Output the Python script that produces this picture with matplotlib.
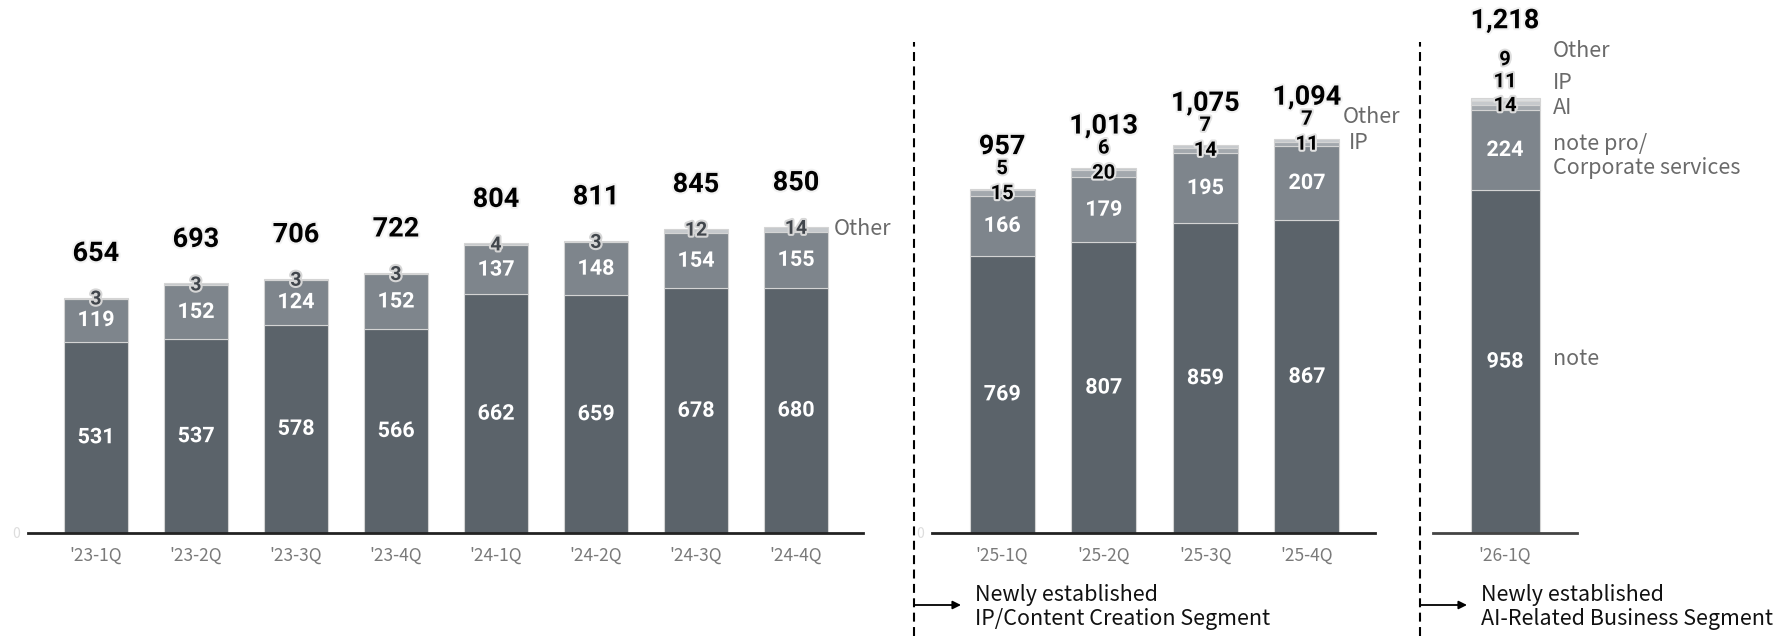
import matplotlib.pyplot as plt
import matplotlib.patheffects as pe

# --- data ---------------------------------------------------------------
quarters_a = ["'23-1Q", "'23-2Q", "'23-3Q", "'23-4Q", "'24-1Q", "'24-2Q", "'24-3Q", "'24-4Q"]
note_a = [531, 537, 578, 566, 662, 659, 678, 680]
pro_a = [119, 152, 124, 152, 137, 148, 154, 155]
other_a = [3, 3, 3, 3, 4, 3, 12, 14]
total_a = [654, 693, 706, 722, 804, 811, 845, 850]

quarters_b = ["'25-1Q", "'25-2Q", "'25-3Q", "'25-4Q"]
note_b = [769, 807, 859, 867]
pro_b = [166, 179, 195, 207]
ip_b = [15, 20, 14, 11]
other_b = [5, 6, 7, 7]
total_b = [957, 1013, 1075, 1094]

quarters_c = ["'26-1Q"]
note_c = [958]
pro_c = [224]
ai_c = [14]
ip_c = [11]
other_c = [9]
total_c = [1218]

# --- style --------------------------------------------------------------
C_NOTE = "#5b636a"
C_PRO = "#7e858c"
C_MID = "#a3a8ad"
C_TOP = "#c6c9cc"
NUM_FONT = "Roboto"
TXT_FONT = ["Noto Sans CJK JP", "DejaVu Sans"]
W, H = 1787, 636

fig = plt.figure(figsize=(W / 100, H / 100), dpi=100)


def px_axes(x0, x1, ymax):
    # axes whose bottom edge sits on the baseline at y=533 px (from top)
    ax = fig.add_axes([x0 / W, (H - 533) / H, (x1 - x0) / W, 533 / H])
    ax.set_ylim(0, ymax)
    for s in ["top", "right", "left"]:
        ax.spines[s].set_visible(False)
    ax.spines["bottom"].set_linewidth(2)
    ax.spines["bottom"].set_color("#222222")
    ax.set_yticks([0])
    ax.set_yticklabels(["0"], color="#dddddd", fontsize=10, family=TXT_FONT)
    ax.tick_params(axis="y", length=0, pad=6)
    ax.tick_params(axis="x", length=0, pad=10, labelsize=12.5, labelcolor="#7a7a7a")
    ax.patch.set_alpha(0)
    return ax


def halo(color, lw=3):
    return [pe.withStroke(linewidth=lw, foreground=color)]


def lab(ax, x, y, s, dy_px=0, size=14, color="black", stroke="#eeeeee", weight="bold"):
    ax.annotate(s, (x, y), xytext=(0, -dy_px * 0.72), textcoords="offset points",
                ha="center", va="center", fontsize=size, color=color, family=NUM_FONT,
                weight=weight, path_effects=halo(stroke), annotation_clip=False)


def side(ax, x, y, s, dy_px=0):
    ax.annotate(s, (x, y), xytext=(4, -dy_px * 0.72), textcoords="offset points",
                ha="left", va="center", fontsize=15.5, color="#6a6a6a",
                family=TXT_FONT, annotation_clip=False, linespacing=1.1)


def stacked(ax, xs, segs, width):
    bottoms = [0] * len(xs)
    for vals, col in segs:
        ax.bar(xs, vals, width, bottom=bottoms, color=col, edgecolor="#d4d4d4", linewidth=0.8)
        bottoms = [b + v for b, v in zip(bottoms, vals)]
    return bottoms


# --- panel 1: '23-'24 ---------------------------------------------------
ax1 = px_axes(28, 863, 1478)
xa = list(range(len(quarters_a)))
ax1.set_xlim(-0.68, 7.67)
tops = stacked(ax1, xa, [(note_a, C_NOTE), (pro_a, C_PRO), (other_a, C_TOP)], 0.64)
ax1.set_xticks(xa)
ax1.set_xticklabels(quarters_a, family=TXT_FONT)
for i in xa:
    lab(ax1, i, note_a[i] / 2, str(note_a[i]), size=15.5, color="white", stroke=C_NOTE)
    lab(ax1, i, note_a[i] + pro_a[i] / 2, str(pro_a[i]), size=15.5, color="white", stroke=C_PRO)
    lab(ax1, i, tops[i], str(other_a[i]), dy_px=2, size=14, color="#41464c", stroke="#d6d6d6")
    lab(ax1, i, tops[i], f"{total_a[i]:,}", dy_px=-44, size=19.5, stroke="#f2f2f2")
side(ax1, xa[-1] + 0.32, tops[-1], "Other", dy_px=2)

# --- panel 2: '25 -------------------------------------------------------
ax2 = px_axes(932, 1375, 1478)
xb = list(range(len(quarters_b)))
ax2.set_xlim(-0.69, 3.67)
tops = stacked(ax2, xb, [(note_b, C_NOTE), (pro_b, C_PRO), (ip_b, C_MID), (other_b, C_TOP)], 0.64)
ax2.set_xticks(xb)
ax2.set_xticklabels(quarters_b, family=TXT_FONT)
for i in xb:
    lab(ax2, i, note_b[i] / 2, str(note_b[i]), size=15.5, color="white", stroke=C_NOTE)
    lab(ax2, i, note_b[i] + pro_b[i] / 2, str(pro_b[i]), size=15.5, color="white", stroke=C_PRO)
    lab(ax2, i, tops[i], str(ip_b[i]), dy_px=5, size=14.5, stroke="#e2e2e2")
    lab(ax2, i, tops[i], str(other_b[i]), dy_px=-20, size=14.5, stroke="#e2e2e2")
    lab(ax2, i, tops[i], f"{total_b[i]:,}", dy_px=-42, size=19.5, stroke="#f2f2f2")
side(ax2, xb[-1] + 0.30, tops[-1], "Other", dy_px=-22)
side(ax2, xb[-1] + 0.36, tops[-1], "IP", dy_px=4)

# --- panel 3: '26 -------------------------------------------------------
ax3 = px_axes(1433, 1577, 1489)
ax3.spines["bottom"].set_color("#444444")
ax3.set_yticks([])
ax3.set_xlim(-0.72, 0.72)
tops = stacked(ax3, [0], [(note_c, C_NOTE), (pro_c, C_PRO), (ai_c, C_MID), (ip_c, C_TOP), (other_c, "#dcdedf")], 0.69)
ax3.set_xticks([0])
ax3.set_xticklabels(quarters_c, family=TXT_FONT)
lab(ax3, 0, note_c[0] / 2, str(note_c[0]), size=15.5, color="white", stroke=C_NOTE)
lab(ax3, 0, note_c[0] + pro_c[0] / 2, str(pro_c[0]), size=15.5, color="white", stroke=C_PRO)
lab(ax3, 0, tops[0], str(ai_c[0]), dy_px=8, size=14.5, stroke="#dddddd")
lab(ax3, 0, tops[0], str(ip_c[0]), dy_px=-16, size=14.5, stroke="#dddddd")
lab(ax3, 0, tops[0], str(other_c[0]), dy_px=-38, size=14.5, stroke="#dddddd")
lab(ax3, 0, tops[0], f"{total_c[0]:,}", dy_px=-77, size=19.5, stroke="#f2f2f2")
xr = 0.42
side(ax3, xr, tops[0], "Other", dy_px=-47)
side(ax3, xr, tops[0], "IP", dy_px=-15)
side(ax3, xr, tops[0], "AI", dy_px=10)
side(ax3, xr, note_c[0] + pro_c[0] / 2, "note pro/\nCorporate services", dy_px=6)
side(ax3, xr, note_c[0] / 2, "note", dy_px=-3)

# --- segment dividers and notes -----------------------------------------
for xpx, txt in [(914, "Newly established\nIP/Content Creation Segment"),
                 (1420, "Newly established\nAI-Related Business Segment")]:
    fig.add_artist(plt.Line2D([xpx / W, xpx / W], [0, 1 - 42 / H], color="black",
                              lw=1.5, dashes=(4.3, 2.6)))
    plt.annotate("", xy=((xpx + 47) / W, 1 - 605 / H), xytext=(xpx / W, 1 - 605 / H),
                 xycoords="figure fraction",
                 arrowprops=dict(arrowstyle="-|>", color="black", lw=1.3, mutation_scale=12,
                                 shrinkA=0, shrinkB=0))
    fig.text((xpx + 61) / W, 1 - 607 / H, txt, ha="left", va="center", fontsize=15.5,
             family=TXT_FONT, color="#111111", linespacing=1.15)

fig.savefig("out.png", dpi=100, facecolor="white")
